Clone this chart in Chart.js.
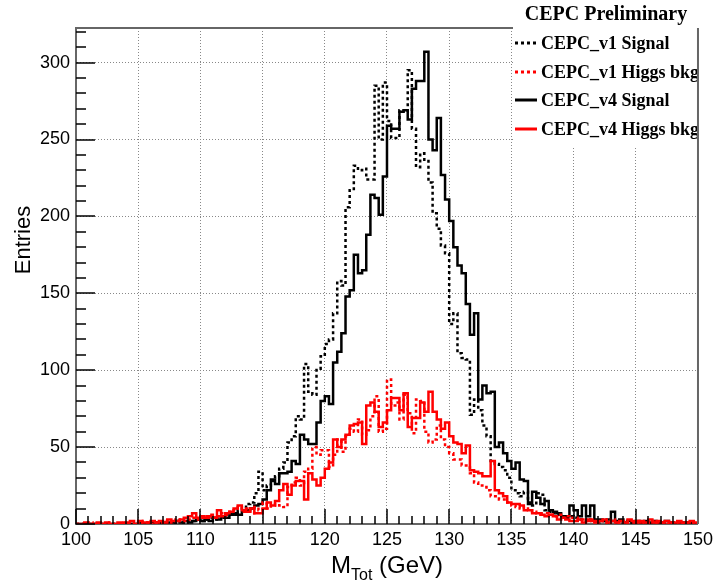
<!DOCTYPE html>
<html>
<head>
<meta charset="utf-8">
<script src="https://cdn.jsdelivr.net/npm/chart.js@4.4.1/dist/chart.umd.min.js"></script>
<style>
  html, body { margin: 0; padding: 0; background: #fff; }
  canvas { display: block; }
</style>
</head>
<body>
<canvas id="grafico" width="718" height="583"></canvas>
<script>
// binning: 150 bins from 100 to 150 GeV
const xMin = 100;
const xMax = 150;
const nBins = 150;
const xTicks = [100, 105, 110, 115, 120, 125, 130, 135, 140, 145, 150];
const yTicks = [0, 50, 100, 150, 200, 250, 300];

const labels = ["CEPC_v1 Signal", "CEPC_v1 Higgs bkg", "CEPC_v4 Signal", "CEPC_v4 Higgs bkg"];

// CEPC_v1 Signal (black dotted)
const sigV1 = [
  0,0,0,0,0,0,0,0,0,0, 0,0,0,0,0,0,1,0,0,1, 0,1,1,0,2,1,1,2,2,3,
  2,3,4,3,5,4,6,7,6,9, 10,13,14,20,34,22,25,28,31,36, 40,53,57,70,68,104,86,84,101,109,
  117,120,137,158,155,206,217,233,230,231, 224,224,285,250,287,262,251,251,269,268,
  295,257,232,241,236,222,202,192,181,176, 130,137,111,108,107,71,81,74,64,57,
  40,39,37,35,30,22,20,18,21,14, 12,20,19,9,8,7,6,5,4,5, 4,3,3,2,3,2,1,2,1,2,
  1,1,2,1,1,0,1,1,0,1, 0,1,0,0,1,0,0,1,0,0
];

// CEPC_v1 Higgs bkg (red dotted)
const bkgV1 = [
  0,0,0,1,0,0,0,0,1,0, 0,1,0,0,1,2,1,1,0,1, 1,2,1,2,3,2,2,3,4,3,
  4,5,6,4,5,7,6,8,9,11, 8,10,7,11,9,14,10,12,13,12, 11,24,27,30,25,34,36,50,45,48,
  48,37,45,55,47,57,62,60,68,58, 61,70,83,60,62,94,77,79,68,84,
  72,59,81,80,60,53,55,64,55,50, 46,42,42,38,38,33,27,25,24,22,
  18,18,16,16,14,12,11,10,11,9, 8,7,7,7,6,5,6,4,5,4, 4,3,3,2,3,2,2,1,2,3,
  1,2,2,1,1,2,1,1,1,2, 1,1,0,1,1,1,0,1,1,0
];

// CEPC_v4 Signal (black solid)
const sigV4 = [
  0,0,0,0,0,0,0,0,0,0, 0,0,0,0,0,1,0,0,1,0, 1,0,1,1,2,1,2,1,2,3,
  2,3,2,4,3,5,4,6,7,6, 8,9,10,12,13,16,22,29,26,33, 33,34,41,39,58,55,52,52,66,80,
  83,78,105,112,124,148,152,175,163,165, 188,214,212,201,226,259,257,257,268,269,
  263,283,288,288,307,250,243,264,227,211, 197,180,168,163,143,123,137,81,90,85,
  86,50,53,46,41,36,40,29,28,13, 21,17,13,15,9,8,7,4,5,12, 9,5,12,5,12,3,3,2,3,8,
  2,3,1,2,1,2,1,2,1,2, 1,1,2,1,0,1,1,0,1,0
];

// CEPC_v4 Higgs bkg (red solid)
const bkgV4 = [
  0,0,1,0,0,1,0,1,0,0, 1,0,1,2,0,2,1,1,2,1, 2,1,3,2,2,3,4,5,7,4,
  5,4,5,4,9,5,7,8,10,12, 9,8,10,7,7,10,14,12,15,22, 26,19,25,28,28,16,33,29,25,30,
  36,40,55,50,55,58,64,65,66,52, 77,79,73,63,66,74,82,82,74,85,
  63,69,69,79,73,86,73,68,62,66, 57,53,52,46,51,35,34,33,31,31,
  41,22,20,18,14,13,13,12,9,9, 7,7,6,5,6,5,3,4,3,2, 2,3,1,3,2,1,2,3,1,2,
  1,2,1,3,2,1,2,1,3,1, 2,1,2,1,1,2,1,1,2,1
];

// histogram -> points at bin edges (stepped line)
function histPoints(vals) {
  const w = (xMax - xMin) / nBins;
  const pts = vals.map((v, k) => ({ x: xMin + k * w, y: v }));
  pts.push({ x: xMax, y: vals[vals.length - 1] });
  return pts;
}

const sansFont = "'Liberation Sans', Arial, Helvetica, sans-serif";
const serifFont = "'Liberation Serif', 'Times New Roman', serif";

const estilos = [
  { color: "#000000", dash: [3, 3] },
  { color: "#ff0000", dash: [3, 3] },
  { color: "#000000", dash: [] },
  { color: "#ff0000", dash: [] }
];

// marco, ticks, títulos y leyenda estilo ROOT
const rootStyle = {
  id: "rootStyle",
  afterDraw(chart) {
    const { ctx, chartArea: a } = chart;
    const sx = chart.scales.x;
    const sy = chart.scales.y;
    ctx.save();
    ctx.setLineDash([]);
    ctx.globalAlpha = 1;
    ctx.globalCompositeOperation = "source-over";

    // ticks hacia adentro
    ctx.fillStyle = "#000000";
    const bottom = Math.round(a.bottom);
    const left = Math.round(a.left);
    for (let v = xMin; v <= xMax; v += 1) {
      const px = Math.round(sx.getPixelForValue(v));
      const len = v % 5 === 0 ? 15 : 8;
      ctx.fillRect(px - 0.75, bottom - len, 1.5, len);
    }
    for (let v = 0; v <= 320; v += 10) {
      const py = Math.round(sy.getPixelForValue(v));
      const len = v % 50 === 0 ? 19 : 10;
      ctx.fillRect(left, py - 0.75, len, 1.5);
    }

    // leyenda
    ctx.fillStyle = "#fff";
    ctx.fillRect(513, 0, a.right - 513 - 1, 147);
    ctx.fillStyle = "#000";
    ctx.textBaseline = "middle";
    ctx.textAlign = "center";
    ctx.font = "bold 20px " + serifFont;
    ctx.fillText("CEPC Preliminary", 606, 15);
    ctx.textAlign = "left";
    ctx.font = "bold 18px " + serifFont;
    const filas = [43, 72, 100, 129];
    labels.forEach((txt, i) => {
      ctx.strokeStyle = estilos[i].color;
      ctx.lineWidth = 3;
      ctx.setLineDash(estilos[i].dash);
      ctx.beginPath();
      ctx.moveTo(515, filas[i]);
      ctx.lineTo(537, filas[i]);
      ctx.stroke();
      ctx.setLineDash([]);
      ctx.fillText(txt, 541, filas[i] + 1);
    });

    // marco superior y derecho
    ctx.strokeStyle = "#666";
    ctx.lineWidth = 2;
    ctx.beginPath();
    ctx.moveTo(a.left, a.top);
    ctx.lineTo(513, a.top);
    ctx.moveTo(a.right, a.top);
    ctx.lineTo(a.right, a.bottom);
    ctx.stroke();

    // títulos de ejes
    ctx.fillStyle = "#000";
    ctx.textBaseline = "alphabetic";
    ctx.font = "24px " + sansFont;
    const parte1 = "M";
    const parte2 = "Tot";
    const parte3 = " (GeV)";
    const w1 = ctx.measureText(parte1).width;
    const w3 = ctx.measureText(parte3).width;
    ctx.font = "16px " + sansFont;
    const w2 = ctx.measureText(parte2).width;
    let x0 = (a.left + a.right) / 2 - (w1 + w2 + w3) / 2;
    ctx.font = "24px " + sansFont;
    ctx.fillText(parte1, x0, 573);
    ctx.font = "16px " + sansFont;
    ctx.fillText(parte2, x0 + w1, 580);
    ctx.font = "24px " + sansFont;
    ctx.fillText(parte3, x0 + w1 + w2, 573);

    ctx.translate(30, 240);
    ctx.rotate(-Math.PI / 2);
    ctx.textAlign = "center";
    ctx.font = "22px " + sansFont;
    ctx.fillText("Entries", 0, 0);
    ctx.restore();
  }
};

const ctx = document.getElementById("grafico").getContext("2d");

const series = [bkgV4, bkgV1, sigV4, sigV1];
const idx = [3, 1, 2, 0];

const grafico = new Chart(ctx, {
  type: "line",
  data: {
    datasets: series.map((vals, j) => ({
      label: labels[idx[j]],
      data: histPoints(vals),
      borderColor: estilos[idx[j]].color,
      borderDash: estilos[idx[j]].dash,
      borderWidth: 2.5,
      stepped: "before",
      pointRadius: 0,
      fill: false,
      tension: 0
    }))
  },
  options: {
    responsive: false,
    animation: false,
    devicePixelRatio: 1,
    layout: { padding: { top: 28, right: 17, left: 0, bottom: 0 } },
    plugins: { legend: { display: false }, tooltip: { enabled: false } },
    scales: {
      x: {
        type: "linear",
        min: xMin,
        max: xMax,
        afterFit: (s) => { s.height = 59; },
        afterBuildTicks: (s) => { s.ticks = xTicks.map((v) => ({ value: v })); },
        ticks: { color: "#000", font: { size: 18, family: sansFont }, padding: 5, maxRotation: 0, autoSkip: false },
        grid: { color: "#888", lineWidth: 1, drawTicks: false },
        border: { display: true, color: "#666", width: 2, dash: [1, 2] }
      },
      y: {
        min: 0,
        max: 322.5,
        afterFit: (s) => { s.width = 76; },
        afterBuildTicks: (s) => { s.ticks = yTicks.map((v) => ({ value: v })); },
        ticks: { color: "#000", font: { size: 18, family: sansFont }, padding: 6 },
        grid: { color: "#888", lineWidth: 1, drawTicks: false },
        border: { display: true, color: "#666", width: 2, dash: [1, 2] }
      }
    }
  },
  plugins: [rootStyle]
});
</script>
</body>
</html>
